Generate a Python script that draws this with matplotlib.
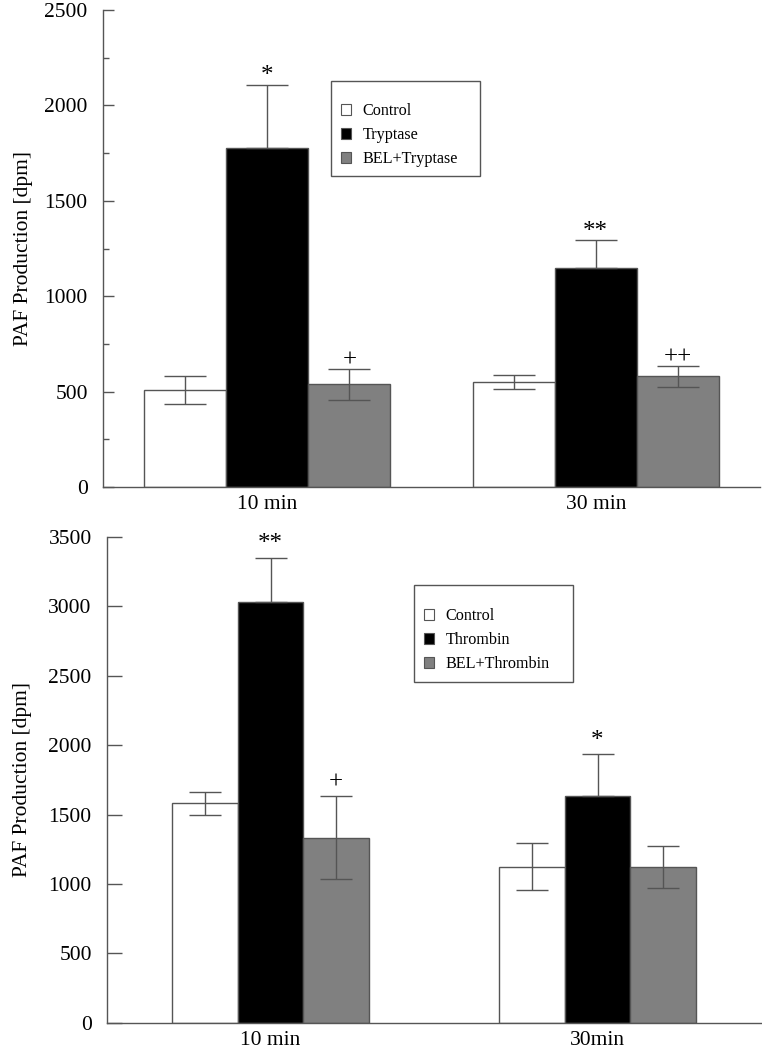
import matplotlib
matplotlib.use("Agg")
import matplotlib.pyplot as plt
from matplotlib.patches import Patch, Rectangle
import numpy as np

plt.rcParams.update({'font.family': 'Liberation Serif', 'font.size': 15.5})

# top panel: tryptase
groups_top = ['10 min', '30 min']
labels_top = ['Control', 'Tryptase', 'BEL+Tryptase']
mean_top = [[510, 1778, 538], [552, 1150, 580]]
err_top = [[73, 330, 80], [37, 145, 55]]
marks_top = [['', '*', '+'], ['', '**', '++']]

# bottom panel: thrombin
groups_bot = ['10 min', '30min']
labels_bot = ['Control', 'Thrombin', 'BEL+Thrombin']
mean_bot = [[1582, 3030, 1334], [1124, 1636, 1122]]
err_bot = [[82, 322, 302], [168, 302, 152]]
marks_bot = [['', '**', '+'], ['', '*', '']]

colors = ['white', 'black', '#808080']
edge = '#555555'
W, H = 762, 1050


def draw(ax, groups, mean, err, marks, width, ymax, minor, capsize, ticklen, markoff):
    x = np.arange(1, len(groups) + 1)
    mean = np.array(mean)
    err = np.array(err)
    for j in range(3):
        xs = x + (j - 1) * width
        ax.bar(xs, mean[:, j], width, color=colors[j], edgecolor=edge, linewidth=1, zorder=2)
        lo = np.zeros(len(x)) if j == 1 else err[:, j]
        ax.errorbar(xs, mean[:, j], yerr=[lo, err[:, j]], fmt='none', ecolor=edge,
                    elinewidth=1, capsize=capsize, capthick=1, zorder=3)
        for i in range(len(x)):
            if marks[i][j]:
                ax.annotate(marks[i][j], (xs[i], mean[i, j] + err[i, j]),
                            xytext=(0, markoff), textcoords='offset points',
                            ha='center', va='center', fontsize=18, zorder=4)
    ax.set_xlim(0.5, 2.5)
    ax.set_ylim(0, ymax)
    ax.set_xticks(x)
    ax.set_xticklabels(groups)
    ax.set_yticks(np.arange(0, ymax + 1, 500))
    if minor:
        ax.set_yticks(np.arange(250, ymax, 500), minor=True)
        ax.tick_params(axis='y', which='minor', direction='in', length=4.3, color=edge, width=1)
    ax.tick_params(axis='y', which='major', direction='in', length=ticklen, color=edge, width=1, pad=11)
    ax.tick_params(axis='x', length=0, pad=6)
    for s in ['top', 'right']:
        ax.spines[s].set_visible(False)
    for s in ['left', 'bottom']:
        ax.spines[s].set_color(edge)
        ax.spines[s].set_linewidth(1)
    ax.set_ylabel('PAF Production [dpm]', fontsize=15.5)


fig = plt.figure(figsize=(W / 100, H / 100), dpi=100)
ax1 = fig.add_axes([103 / W, 1 - 487 / H, (760 - 103) / W, (487 - 10) / H])
ax2 = fig.add_axes([107 / W, 1 - 1022.7 / H, (761 - 107) / W, (1022.7 - 537) / H])

draw(ax1, groups_top, mean_top, err_top, marks_top, 0.25, 2500, True, 14.8, 7.6, 6)
draw(ax2, groups_bot, mean_bot, err_bot, marks_bot, 0.2, 3500, False, 11.5, 10.8, 9.5)
ax1.yaxis.set_label_coords((33 - 103) / 657, 0.5)
ax2.yaxis.set_label_coords((32 - 107) / 654, 0.5)


def legend(labels, box, first):
    # box: left, top, right, bottom in pixels; first: (square left, first entry y)
    fig.add_artist(Rectangle((box[0] / W, 1 - box[3] / H), (box[2] - box[0]) / W,
                             (box[3] - box[1]) / H, transform=fig.transFigure,
                             facecolor='white', edgecolor=edge, linewidth=1, zorder=5))
    handles = [Patch(facecolor=c, edgecolor=edge, linewidth=0.8) for c in colors]
    l = fig.legend(handles, labels, loc='upper left',
                   bbox_to_anchor=(first[0] / W, 1 - (first[1] - 6) / H),
                   frameon=False, fontsize=11.6,
                   handlelength=0.65, handleheight=0.65, handletextpad=0.7,
                   labelspacing=0.5, borderpad=0, borderaxespad=0)
    l.set_zorder(6)
    return l


legend(labels_top, (331, 81, 480, 176), (341, 109))
legend(labels_bot, (414, 585, 573, 682), (424, 614))

fig.savefig('out.png', dpi=100)
